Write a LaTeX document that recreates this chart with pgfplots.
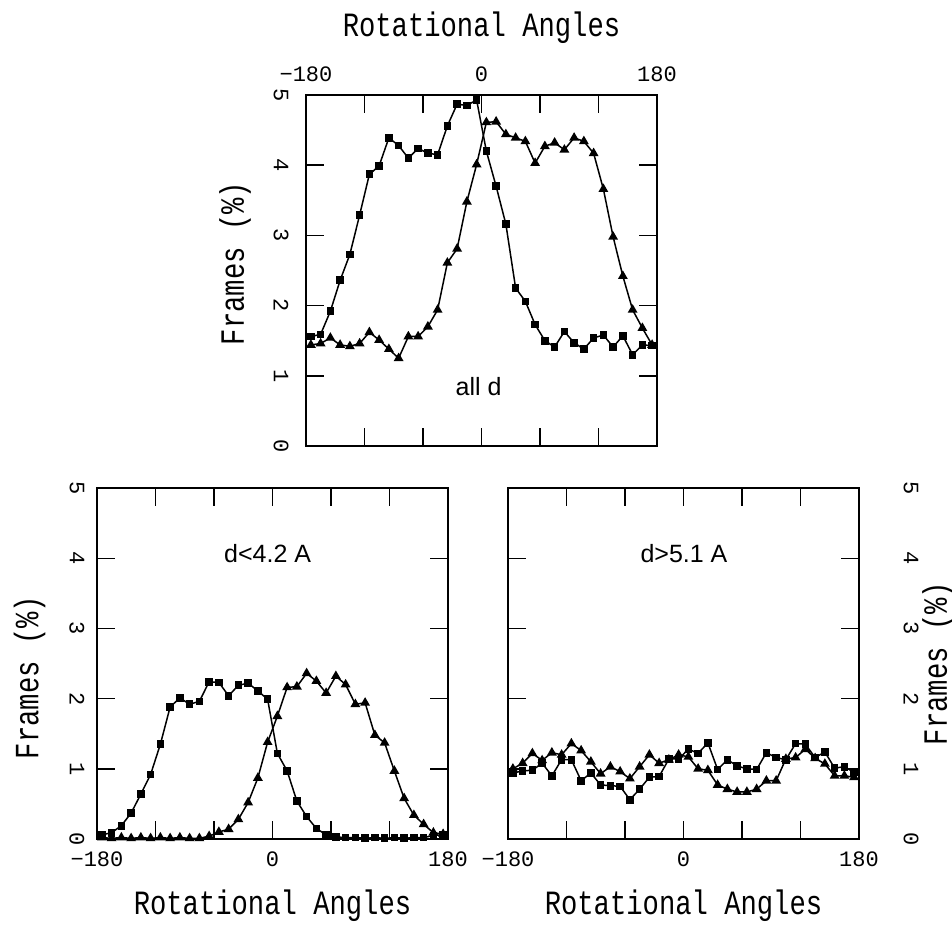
\documentclass[border=0pt]{standalone}
\usepackage{fontspec}
\setmainfont{Liberation Serif}
\newfontfamily\monofont{Liberation Mono}
\newfontfamily\titlefont[FakeStretch=0.8]{Liberation Mono}
\newfontfamily\annfont{Liberation Sans}
\usepackage{pgfplots}
\pgfplotsset{compat=1.18}

\pgfplotstableread{
x sq tri
-175 1.56 1.44
-165 1.59 1.46
-155 1.92 1.54
-145 2.36 1.44
-135 2.73 1.42
-125 3.29 1.46
-115 3.87 1.62
-105 3.99 1.51
-95 4.39 1.38
-85 4.28 1.25
-75 4.10 1.56
-65 4.24 1.56
-55 4.17 1.70
-45 4.15 1.94
-35 4.56 2.61
-25 4.87 2.81
-15 4.85 3.48
-5 4.93 4.01
5 4.20 4.61
15 3.70 4.62
25 3.16 4.44
35 2.25 4.39
45 2.06 4.34
55 1.73 4.03
65 1.50 4.27
75 1.41 4.32
85 1.63 4.22
95 1.47 4.39
105 1.38 4.34
115 1.54 4.17
125 1.58 3.66
135 1.41 2.98
145 1.57 2.42
155 1.30 1.94
165 1.44 1.68
175 1.43 1.44
}\alld

\pgfplotstableread{
x sq tri
-175 0.06 0.02
-165 0.09 0.01
-155 0.19 0.02
-145 0.37 0.01
-135 0.64 0.02
-125 0.92 0.01
-115 1.35 0.02
-105 1.88 0.01
-95 2.01 0.02
-85 1.92 0.01
-75 1.96 0.01
-65 2.24 0.04
-55 2.23 0.10
-45 2.04 0.14
-35 2.19 0.28
-25 2.22 0.52
-15 2.11 0.87
-5 1.99 1.38
5 1.22 1.75
15 0.97 2.16
25 0.54 2.17
35 0.32 2.36
45 0.15 2.25
55 0.06 2.08
65 0.03 2.32
75 0.02 2.20
85 0.02 1.92
95 0.01 1.94
105 0.02 1.48
115 0.01 1.37
125 0.02 0.97
135 0.01 0.58
145 0.02 0.34
155 0.02 0.21
165 0.05 0.09
175 0.06 0.07
}\dsmall

\pgfplotstableread{
x sq tri
-175 0.94 1.00
-165 0.97 1.08
-155 0.98 1.22
-145 1.08 1.12
-135 0.90 1.23
-125 1.13 1.20
-115 1.13 1.36
-105 0.83 1.26
-95 0.94 1.10
-85 0.77 0.93
-75 0.76 1.03
-65 0.75 0.96
-55 0.56 0.86
-45 0.71 1.03
-35 0.88 1.20
-25 0.89 1.08
-15 1.14 1.13
-5 1.14 1.20
5 1.28 1.17
15 1.22 1.00
25 1.37 0.98
35 0.99 0.77
45 1.13 0.71
55 1.04 0.67
65 1.00 0.67
75 0.99 0.71
85 1.23 0.83
95 1.16 0.83
105 1.13 1.14
115 1.36 1.16
125 1.35 1.28
135 1.16 1.15
145 1.24 1.07
155 1.01 0.90
165 1.03 0.90
175 0.95 0.88
}\dlarge

\pgfplotsset{
  panel/.style={
    scale only axis, width=175.5pt, height=175.5pt,
    anchor=south west,
    xmin=-180, xmax=180, ymin=0, ymax=5,
    xtick={-180,-120,...,180}, ytick={0,1,...,5},
    xticklabels={−180,,,0,,,180},
    tick align=inside, major tick length=9pt,
    axis line style={line width=0.9pt},
    every tick/.style={black, line width=0.7pt},
    tick label style={font=\fontsize{11}{12}\monofont},
    /pgf/number format/assume math mode=true,
    every axis x label/.style={at={(axis description cs:0.5,0)}, anchor=base, yshift=-37.5pt, font=\fontsize{17}{20}\titlefont},
  },
  sqp/.style={black, line width=0.75pt, mark=square*, mark size=1.55pt, mark options={solid}},
  trp/.style={black, line width=0.75pt, mark=triangle*, mark size=2.1pt, mark options={solid}},
}

\begin{document}
\begin{tikzpicture}
\useasboundingbox (0pt,0pt) rectangle (476pt,-465pt);

% top panel
\begin{axis}[panel, at={(153pt,-223pt)},
  xticklabel pos=top,
  xticklabel style={anchor=base, yshift=6.5pt},
  every axis x label/.style={at={(axis description cs:0.5,1)}, anchor=base, yshift=29pt, font=\fontsize{17}{20}\titlefont},
  xlabel={Rotational Angles},
  yticklabel style={xshift=-12.5pt, rotate=-90, anchor=center},
  every axis y label/.style={at={(axis description cs:0,0.52)}, xshift=-35.5pt, rotate=90, anchor=center, font=\fontsize{17}{20}\titlefont},
  ylabel={Frames (\%)},
]
\addplot[sqp] table[x=x, y=sq] {\alld};
\addplot[trp] table[x=x, y=tri] {\alld};
\node[font=\fontsize{12.5}{14}\annfont] at (axis cs:-3,0.84) {all d};
\end{axis}

% bottom left
\begin{axis}[panel, at={(48.5pt,-419.5pt)},
  xticklabel style={anchor=base, yshift=-13.5pt},
  xlabel={Rotational Angles},
  yticklabel style={xshift=-10pt, rotate=-90, anchor=center},
  every axis y label/.style={at={(axis description cs:0,0.46)}, xshift=-33.75pt, rotate=90, anchor=center, font=\fontsize{17}{20}\titlefont},
  ylabel={Frames (\%)},
]
\addplot[sqp] table[x=x, y=sq] {\dsmall};
\addplot[trp] table[x=x, y=tri] {\dsmall};
\node[font=\fontsize{12.5}{14}\annfont] at (axis cs:-5,4.07) {d<4.2 A};
\end{axis}

% bottom right
\begin{axis}[panel, at={(254pt,-419.5pt)},
  xticklabel style={anchor=base, yshift=-13.5pt},
  xlabel={Rotational Angles},
  yticklabel pos=right,
  yticklabel style={xshift=26pt, rotate=-90, anchor=center},
  every axis y label/.style={at={(axis description cs:1,0.5)}, xshift=39.5pt, rotate=90, anchor=center, font=\fontsize{17}{20}\titlefont},
  ylabel={Frames (\%)},
]
\addplot[sqp] table[x=x, y=sq] {\dlarge};
\addplot[trp] table[x=x, y=tri] {\dlarge};
\node[font=\fontsize{12.5}{14}\annfont] at (axis cs:0.5,4.07) {d>5.1 A};
\end{axis}
\end{tikzpicture}
\end{document}
